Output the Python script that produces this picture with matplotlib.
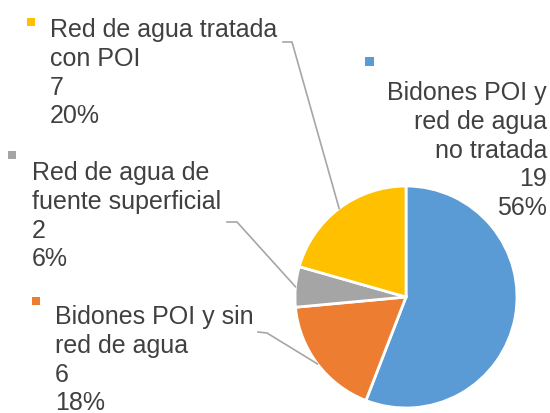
import matplotlib
matplotlib.use("Agg")
import matplotlib.pyplot as plt
from matplotlib.lines import Line2D
from matplotlib.patches import Rectangle
import numpy as np

# ---- data ----
categories = ["Bidones POI y\nred de agua\nno tratada",
              "Bidones POI y sin\nred de agua",
              "Red de agua de\nfuente superficial",
              "Red de agua tratada\ncon POI"]
values = [19, 6, 2, 7]
pct_labels = ["56%", "18%", "6%", "20%"]
colors = ["#5B9BD5", "#ED7D31", "#A5A5A5", "#FFC000"]

W, H = 550, 414
fig = plt.figure(figsize=(W / 100, H / 100), dpi=100)
plt.rcParams['font.family'] = ['Liberation Sans', 'DejaVu Sans']

# pie axes (pixel geometry)
cx, cy, r = 406, 298, 111
ax = fig.add_axes([(cx - r) / W, (H - cy - r) / H, 2 * r / W, 2 * r / H])
wedges, _ = ax.pie(values, colors=colors, startangle=90, counterclock=False,
                   radius=1.0, wedgeprops=dict(edgecolor="white", linewidth=2))
ax.set_xlim(-1, 1)
ax.set_ylim(-1, 1)
ax.set_aspect("equal")
ax.axis("off")

def fx(x):
    return x / W

def fy(y):
    return 1 - y / H

text_color = "#404040"
fs = 18
step = 28.8

# label layout: (x, first baseline, align, marker box (x0,y0,size), leader start points or None)
layout = [
    (547, 100, "right", (365, 58, 9), None),
    (55, 324, "left", (32, 298, 8), [(258, 333), (267, 334)]),
    (32, 180, "left", (8, 152, 8), [(227, 223), (237, 223)]),
    (50, 37, "left", (27, 19, 8), [(283, 43), (292, 43)]),
]

fig.canvas.draw()
for i, (w, cat, val, pct) in enumerate(zip(wedges, categories, values, pct_labels)):
    x, y0, ha, (mx, my, ms), leader = layout[i]
    lines = cat.split("\n") + [str(val), pct]
    for k, line in enumerate(lines):
        fig.text(fx(x), fy(y0 + k * step), line, ha=ha, va="baseline",
                 fontsize=fs, color=text_color)
    fig.add_artist(Rectangle((fx(mx), fy(my + ms)), ms / W, ms / H,
                             transform=fig.transFigure, color=colors[i], lw=0))
    if leader:
        th = np.deg2rad((w.theta1 + w.theta2) / 2)
        px, py = ax.transData.transform((np.cos(th), np.sin(th)))
        ex, ey = px / W, py / H
        xs = [fx(p[0]) for p in leader] + [ex]
        ys = [fy(p[1]) for p in leader] + [ey]
        fig.add_artist(Line2D(xs, ys, transform=fig.transFigure,
                              color="#A6A6A6", lw=1.2))

fig.savefig("out.png", dpi=100)
